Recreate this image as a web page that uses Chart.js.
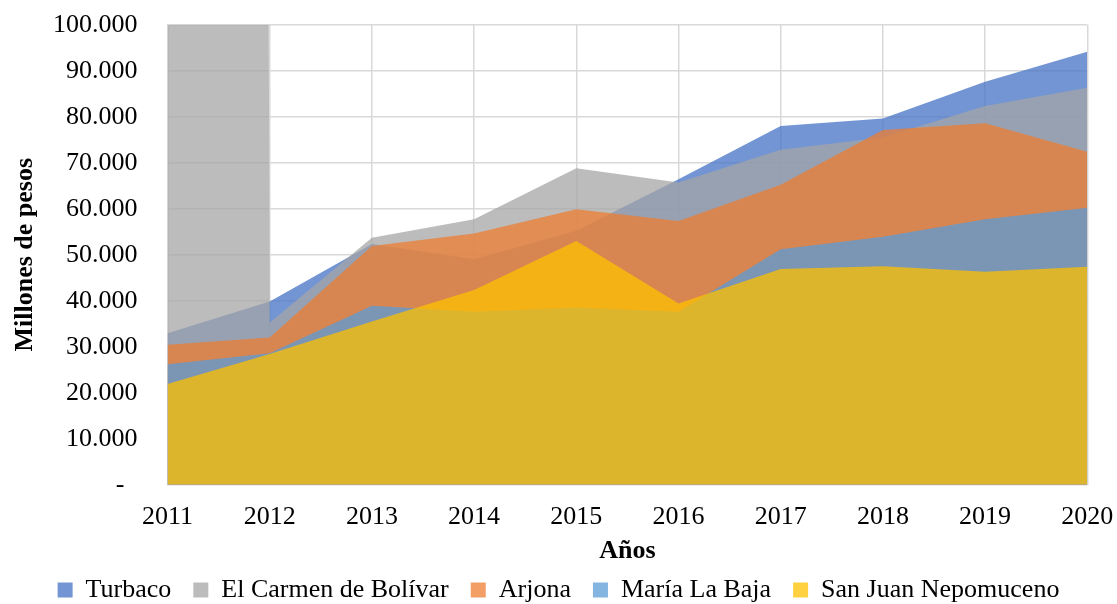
<!DOCTYPE html>
<html>
<head>
<meta charset="utf-8">
<script src="https://cdn.jsdelivr.net/npm/chart.js@4/dist/chart.umd.min.js"></script>
<style>
  html, body { margin: 0; padding: 0; background: #fff; }
  #wrap { width: 1117px; height: 604px; }
</style>
</head>
<body>
<div id="wrap"><canvas id="chart"></canvas></div>
<script>
// years on the x axis
const years = ['2011', '2012', '2013', '2014', '2015', '2016', '2017', '2018', '2019', '2020'];

// values in millones de pesos
const turbaco     = [32900, 39800, 52300, 49000, 55200, 66400, 78000, 79600, 87600, 94100];
// 2011 runs far off the top of the chart in the original
const elCarmen    = [10000000, 35200, 53700, 57700, 68800, 65700, 72800, 75500, 82300, 86300];
const arjona      = [30400, 32000, 51900, 54600, 59900, 57300, 65200, 77100, 78600, 72400];
const mariaLaBaja = [26200, 28600, 38900, 37600, 38500, 37600, 51200, 53900, 57700, 60200];
const sanJuan     = [21900, 28400, 35500, 42300, 53000, 39400, 46900, 47500, 46300, 47400];

const yTicks = [0, 10000, 20000, 30000, 40000, 50000, 60000, 70000, 80000, 90000, 100000];

const FONT = "'Liberation Serif', 'Times New Roman', serif";

function area(label, data, color, order) {
  return {
    label: label,
    data: data,
    backgroundColor: color,
    borderColor: color,
    borderWidth: 0,
    pointRadius: 0,
    pointHoverRadius: 0,
    fill: 'origin',
    tension: 0,
    order: order
  };
}

// first series at the back, last series in front (like Excel)
let data = {
  labels: years,
  datasets: [
    area('Turbaco', turbaco, 'rgba(68, 114, 196, 0.75)', 4),
    area('El Carmen de Bolívar', elCarmen, 'rgba(165, 165, 165, 0.75)', 3),
    area('Arjona', arjona, 'rgba(237, 125, 49, 0.75)', 2),
    area('María La Baja', mariaLaBaja, 'rgba(91, 155, 213, 0.75)', 1),
    area('San Juan Nepomuceno', sanJuan, 'rgba(255, 192, 0, 0.75)', 0)
  ]
};

function fmt(v) {
  if (v === 0) return '-  ';
  return v.toLocaleString('de-DE');
}

let config = {
  type: 'line',
  data,
  options: {
    responsive: false,
    animation: false,
    layout: { padding: { top: 0, right: 0, left: 0, bottom: -9 } },
    plugins: {
      tooltip: { enabled: false },
      legend: {
        position: 'bottom',
        labels: {
          font: { family: FONT, size: 26 },
          color: '#000',
          boxWidth: 15,
          boxHeight: 15,
          padding: 22,
          sort: (a, b) => a.datasetIndex - b.datasetIndex
        }
      }
    },
    scales: {
      x: {
        offset: false,
        grid: { color: '#d9d9d9', lineWidth: 1.5, drawTicks: false },
        border: { display: false },
        ticks: { font: { family: FONT, size: 26 }, color: '#000', padding: 16.7, maxRotation: 0 },
        title: {
          display: true,
          text: 'Años',
          font: { family: FONT, size: 26, weight: 'bold' },
          color: '#000',
          padding: { top: 0, bottom: -11.6 }
        },
        afterFit: (axis) => {
          axis.height = 70.3;
          axis.paddingLeft = 0;
          axis.paddingRight = 29.7;
        }
      },
      y: {
        min: 0,
        max: 100000,
        afterBuildTicks: (axis) => { axis.ticks = yTicks.map(v => ({ value: v })); },
        grid: { color: '#d9d9d9', lineWidth: 1.5, drawTicks: false },
        border: { display: true, color: '#d9d9d9', width: 1.5 },
        ticks: { font: { family: FONT, size: 26 }, color: '#000', padding: 30, callback: (v) => fmt(v) },
        title: {
          display: true,
          text: 'Millones de pesos',
          font: { family: FONT, size: 26, weight: 'bold' },
          color: '#000',
          padding: { top: 9.4, bottom: 10 }
        },
        afterFit: (axis) => {
          axis.width = 167.5;
          axis.paddingTop = 24.7;
          axis.paddingBottom = 0;
        }
      }
    }
  }
};

const canvas = document.getElementById('chart');
canvas.width = 1117;
canvas.height = 604;
var myChart = new Chart(canvas, config);
</script>
</body>
</html>
